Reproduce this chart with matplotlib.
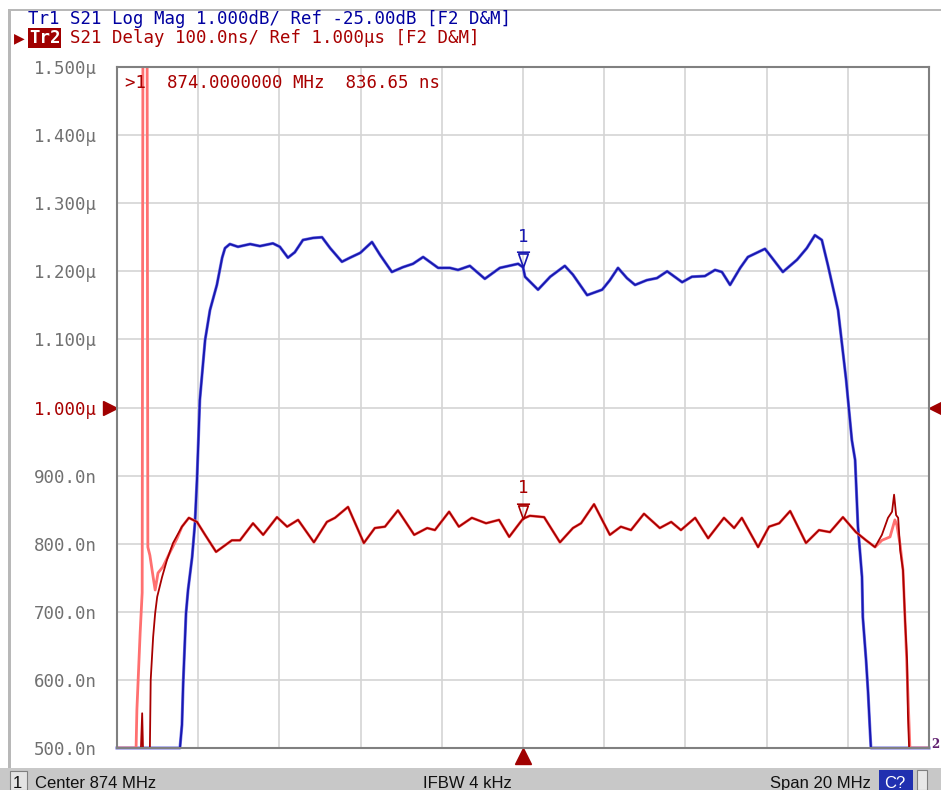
import numpy as np
import matplotlib
matplotlib.use('Agg')
import matplotlib.pyplot as plt
from matplotlib.path import Path

# Tr1: S21 Log Mag (dB) vs frequency (MHz)
blue_f = [864.00, 865.55, 865.60, 865.63, 865.70, 865.75, 865.85, 865.92, 865.97, 866.04,
          866.17, 866.29, 866.46, 866.59, 866.66, 866.78, 866.98, 867.28, 867.52, 867.84,
          868.01, 868.21, 868.38, 868.58, 868.83, 869.05, 869.25, 869.54, 869.74, 869.99,
          870.28, 870.48, 870.77, 871.04, 871.29, 871.54, 871.91, 872.20, 872.40, 872.69,
          873.06, 873.43, 873.88, 874.00, 874.05, 874.37, 874.67, 875.03, 875.23, 875.58,
          875.95, 876.14, 876.34, 876.56, 876.76, 877.05, 877.30, 877.55, 877.92, 878.16,
          878.48, 878.73, 878.90, 879.10, 879.35, 879.54, 879.96, 880.13, 880.40, 880.75,
          880.99, 881.19, 881.36, 881.51, 881.76, 881.96, 882.10, 882.18, 882.25, 882.35,
          882.37, 882.45, 882.50, 882.55, 882.57, 884.00]
blue_db = [-30.00, -30.00, -29.66, -29.05, -28.02, -27.68, -27.20, -26.70, -26.06, -24.89,
           -24.01, -23.57, -23.20, -22.80, -22.66, -22.60, -22.64, -22.60, -22.63, -22.59,
           -22.64, -22.80, -22.72, -22.54, -22.51, -22.50, -22.66, -22.86, -22.80, -22.73,
           -22.57, -22.76, -23.01, -22.94, -22.89, -22.79, -22.95, -22.95, -22.98, -22.92,
           -23.11, -22.95, -22.89, -22.94, -23.08, -23.27, -23.08, -22.92, -23.05, -23.35,
           -23.27, -23.13, -22.95, -23.10, -23.20, -23.13, -23.10, -23.00, -23.16, -23.08,
           -23.07, -22.98, -23.01, -23.20, -22.95, -22.79, -22.67, -22.80, -23.01, -22.83,
           -22.66, -22.47, -22.54, -22.91, -23.57, -24.60, -25.48, -25.77, -26.75, -27.49,
           -28.08, -28.71, -29.19, -29.78, -30.00, -30.00]

# Tr2: S21 Delay (ns), passband part shared by data and memory traces
pass_f = [865.60, 865.77, 865.97, 866.17, 866.44, 866.83, 867.03, 867.35, 867.60, 867.94,
          868.19, 868.46, 868.85, 869.17, 869.37, 869.69, 870.08, 870.35, 870.60, 870.92,
          871.32, 871.64, 871.83, 872.18, 872.42, 872.74, 873.09, 873.41, 873.66, 873.85,
          874.00, 874.17, 874.52, 874.91, 875.23, 875.43, 875.75, 876.14, 876.41, 876.66,
          876.98, 877.37, 877.65, 877.89, 878.24, 878.56, 878.95, 879.20, 879.39, 879.79,
          880.06, 880.31, 880.58, 880.97, 881.29, 881.56, 881.88, 882.20, 882.45, 882.67]
pass_ns = [825, 838, 832, 813, 788, 805, 805, 830, 813, 839,
           825, 835, 802, 832, 838, 854, 801, 823, 825, 849,
           813, 823, 820, 847, 825, 838, 830, 835, 810, 825,
           836.65, 841, 839, 802, 823, 830, 858, 813, 825, 820,
           844, 823, 832, 820, 838, 808, 838, 823, 838, 795,
           825, 830, 848, 801, 820, 817, 839, 817, 805, 795]

dark_left_f = [864.00, 864.59, 864.62, 864.64, 864.81, 864.83, 864.89, 864.94, 864.99, 865.11,
               865.23, 865.38]
dark_left_ns = [500, 500, 551, 500, 500, 600, 663, 698, 722, 751, 776, 801]
dark_right_f = [882.84, 882.99, 883.09, 883.14, 883.19, 883.24, 883.29, 883.36, 883.41, 883.46,
                883.48, 883.51, 884.00]
dark_right_ns = [813, 838, 847, 872, 842, 838, 791, 761, 688, 629, 551, 500, 500]

light_left_f = [864.00, 864.47, 864.49, 864.57, 864.62, 864.64, 864.74, 864.76, 864.81, 864.89,
                864.94, 865.01, 865.13, 865.31, 865.48]
light_left_ns = [500, 500, 556, 669, 728, 1600, 1600, 795, 783, 751, 732, 757, 766, 788, 808]
light_right_f = [882.84, 883.04, 883.16, 883.21, 883.29, 883.36, 883.43, 883.48, 883.53, 884.00]
light_right_ns = [805, 810, 835, 827, 798, 761, 659, 581, 500, 500]

ytick_vals = [1500, 1400, 1300, 1200, 1100, 1000, 900, 800, 700, 600, 500]
ytick_text = ['1.500μ', '1.400μ', '1.300μ', '1.200μ', '1.100μ', '1.000μ',
              '900.0n', '800.0n', '700.0n', '600.0n', '500.0n']

marker_f = 874.0
marker_ns = 836.65
marker_db = -22.94

mono = 'DejaVu Sans Mono'
navy = '#0000a0'
dred = '#a80000'

fig = plt.figure(figsize=(9.41, 7.90), dpi=100)
W, H = 941, 790

# window frame and status bar
fig.patches.append(plt.Rectangle((8 / W, 0), 3 / W, 1 - 9 / H, transform=fig.transFigure,
                                 facecolor='#b8b8b8', edgecolor='none'))
fig.patches.append(plt.Rectangle((8 / W, 1 - 11 / H), 1, 2 / H, transform=fig.transFigure,
                                 facecolor='#b8b8b8', edgecolor='none'))
fig.patches.append(plt.Rectangle((0, 0), 1, 22 / H, transform=fig.transFigure,
                                 facecolor='#c8c8c8', edgecolor='none'))
fig.patches.append(plt.Rectangle((10 / W, 0), 17 / W, 19 / H, transform=fig.transFigure,
                                 facecolor='#e4e4e4', edgecolor='#808080', lw=0.8))
fig.patches.append(plt.Rectangle((879 / W, 0), 34 / W, 20 / H, transform=fig.transFigure,
                                 facecolor='#2030b0', edgecolor='none'))
fig.patches.append(plt.Rectangle((917 / W, 0), 10 / W, 20 / H, transform=fig.transFigure,
                                 facecolor='#e8e8e8', edgecolor='#808080', lw=0.8))

sb = dict(family='Liberation Sans', fontsize=12, va='baseline', color='#101010')
fig.text(13 / W, 2 / H, '1', **sb)
fig.text(35 / W, 2 / H, 'Center 874 MHz', **sb)
fig.text(423 / W, 2 / H, 'IFBW 4 kHz', **sb)
fig.text(770 / W, 2 / H, 'Span 20 MHz', **sb)
fig.text(884 / W, 2 / H, 'C?', family='Liberation Sans', fontsize=12, va='baseline',
         color='white')

# header lines
fig.text(28 / W, 1 - 19 / H, 'Tr1 S21 Log Mag 1.000dB/ Ref -25.00dB [F2 D&M]',
         family=mono, fontsize=12.5, color=navy, va='center')
fig.text(29 / W, 1 - 38 / H, 'Tr2', family=mono, fontsize=12.5, color='white', va='center',
         fontweight='bold',
         bbox=dict(boxstyle='square,pad=0.05', facecolor='#a00000', edgecolor='none'))
fig.text(70 / W, 1 - 38 / H, 'S21 Delay 100.0ns/ Ref 1.000μs [F2 D&M]',
         family=mono, fontsize=12.5, color=dred, va='center')
fig.text(19 / W, 1 - 38 / H, '▶', family='DejaVu Sans', fontsize=10, color='#a00000',
         va='center', ha='center')

# grid + Tr1 on the lower axes, Tr2 on the upper axes
rect = [117 / W, 1 - 748 / H, 812 / W, 681 / H]
axb = fig.add_axes(rect)
axb.set_xlim(864, 884)
axb.set_ylim(-30, -20)
axb.set_xticks(np.arange(864, 885, 2))
axb.set_yticks(np.arange(-30, -19, 1))
axb.tick_params(length=0, labelleft=False, labelbottom=False)
axb.grid(True, color='#d4d4d4', lw=1.2)
for s in axb.spines.values():
    s.set_visible(False)
axb.plot(blue_f, blue_db, color='#7878e8', lw=2.2, clip_on=False)
axb.plot(blue_f, blue_db, color='#1818b0', lw=1.4, clip_on=False)

mk = Path([(-0.55, 1.55), (0.55, 1.55), (0, 0), (-0.55, 1.55), (-0.75, 1.75), (0.75, 1.75)],
          [Path.MOVETO, Path.LINETO, Path.LINETO, Path.CLOSEPOLY, Path.MOVETO, Path.LINETO])
axb.plot([marker_f], [marker_db], marker=mk, ms=22, mfc='none', mec='#1818b0', mew=1.2,
         linestyle='none')
axb.annotate('1', (marker_f, marker_db), xytext=(0, 22), textcoords='offset points',
             ha='center', va='center', family=mono, fontsize=12.5, color='#1818b0')

ax = fig.add_axes(rect)
ax.patch.set_visible(False)
ax.set_xlim(864, 884)
ax.set_ylim(500, 1500)
ax.set_xticks(np.arange(864, 885, 2))
ax.set_xticklabels([])
ax.set_yticks(ytick_vals)
ax.set_yticklabels(ytick_text, family=mono, fontsize=12.5)
ax.tick_params(length=0, pad=14.5, labelcolor='#707070')
for lab in ax.get_yticklabels():
    if lab.get_text() == '1.000μ':
        lab.set_color(dred)
for s in ax.spines.values():
    s.set_color('#808080')
    s.set_linewidth(1.5)

light_f = light_left_f + pass_f + light_right_f
light_ns = light_left_ns + pass_ns + light_right_ns
dark_f = dark_left_f + pass_f + dark_right_f
dark_ns = dark_left_ns + pass_ns + dark_right_ns
ax.plot(light_f, light_ns, color='#ff7070', lw=2.0)
ax.plot(dark_f, dark_ns, color='#a80000', lw=1.3, clip_on=False)

ax.plot([marker_f], [marker_ns], marker=mk, ms=22, mfc='none', mec='#a80000', mew=1.2,
        linestyle='none')
ax.annotate('1', (marker_f, marker_ns), xytext=(0, 22), textcoords='offset points',
            ha='center', va='center', family=mono, fontsize=12.5, color='#a80000')

ax.text(125 / W, 1 - 83 / H, '>1  874.0000000 MHz  836.65 ns', transform=fig.transFigure,
        family=mono, fontsize=12.5, color=dred, va='center')

# reference position and stimulus markers
ax.plot([-0.009], [0.5], marker='>', ms=10, color='#a00000', transform=ax.transAxes,
        clip_on=False)
ax.plot([1.009], [0.5], marker='<', ms=10, color='#a00000', transform=ax.transAxes,
        clip_on=False)
ax.plot([0.5], [-0.012], marker='^', ms=11, color='#a00000', transform=ax.transAxes,
        clip_on=False)
fig.text(931 / W, 1 - 745 / H, '2', family='DejaVu Serif', fontsize=8.5,
         color='#602070', va='center', ha='left', fontweight='bold')

plt.savefig('out.png', dpi=100)
